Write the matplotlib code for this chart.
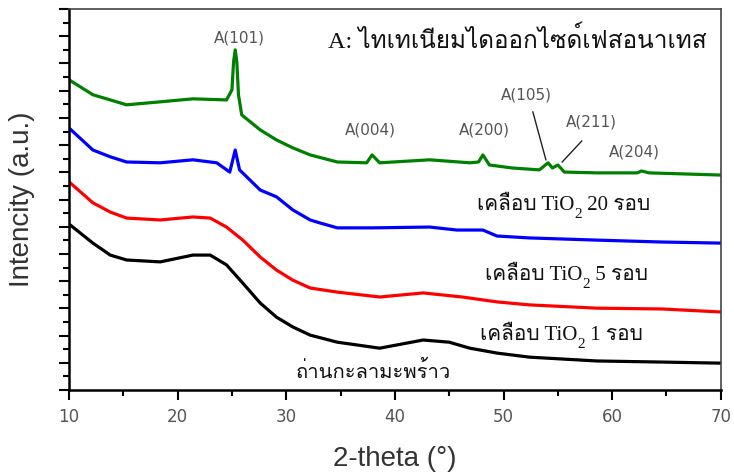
#!/usr/bin/env python3
"""XRD patterns of coconut shell charcoal coated with TiO2."""

import matplotlib
matplotlib.use("Agg")
import matplotlib.pyplot as plt
from matplotlib import font_manager
from matplotlib.ft2font import FT2Font
from matplotlib.ticker import MultipleLocator, NullFormatter

# 2-theta (deg) and intensity (a.u., stacked)
x_20 = [10.0, 12.2, 13.8, 15.3, 18.4, 21.4, 24.5, 25.0, 25.15, 25.3, 25.45, 25.6,
        25.9, 27.6, 29.1, 30.6, 32.2, 34.7, 37.4, 37.9, 38.6, 43.2, 46.9, 47.7,
        48.1, 48.7, 50.8, 53.3, 54.1, 54.5, 55.0, 55.6, 58.6, 62.3, 62.7, 63.4, 70.0]
y_20 = [11.40, 10.85, 10.66, 10.48, 10.59, 10.70, 10.66, 11.03, 12.06, 12.50, 12.06, 10.85,
        10.11, 9.56, 9.19, 8.90, 8.64, 8.38, 8.35, 8.64, 8.35, 8.46, 8.35, 8.38,
        8.64, 8.27, 8.16, 8.09, 8.35, 8.16, 8.27, 8.01, 7.98, 7.98, 8.05, 7.98, 7.90]

x_5 = [10.0, 12.2, 13.8, 15.3, 18.4, 21.4, 23.6, 24.8, 25.3, 25.7, 27.6, 29.1,
       30.6, 32.2, 33.1, 34.7, 37.9, 43.2, 45.7, 48.1, 49.4, 52.4, 58.6, 64.6, 70.0]
y_5 = [9.63, 8.82, 8.57, 8.38, 8.35, 8.46, 8.35, 8.01, 8.82, 8.09, 7.35, 7.10,
       6.62, 6.25, 6.14, 5.96, 5.96, 5.99, 5.88, 5.88, 5.66, 5.59, 5.51, 5.44, 5.40]

x_1 = [10.0, 12.2, 13.8, 15.3, 18.4, 21.4, 23.0, 24.5, 26.0, 27.6, 29.1, 30.6,
       32.2, 34.7, 38.6, 42.6, 46.2, 49.4, 52.4, 58.6, 64.6, 70.0]
y_1 = [7.65, 6.88, 6.54, 6.32, 6.25, 6.36, 6.32, 5.99, 5.51, 4.89, 4.41, 4.04,
       3.75, 3.60, 3.42, 3.57, 3.42, 3.24, 3.13, 3.01, 2.98, 2.87]

x_char = [10.0, 12.2, 13.8, 15.3, 18.4, 21.4, 23.0, 24.5, 26.0, 27.6, 29.1, 30.6,
          32.2, 34.7, 38.6, 42.6, 45.0, 46.9, 49.4, 52.4, 58.6, 64.6, 70.0]
y_char = [6.10, 5.40, 4.96, 4.78, 4.71, 4.96, 4.96, 4.60, 3.93, 3.20, 2.68, 2.32,
          2.02, 1.76, 1.54, 1.84, 1.76, 1.54, 1.36, 1.21, 1.07, 1.03, 0.99]

peak_labels = ["A(101)", "A(004)", "A(200)", "A(105)", "A(211)", "A(204)"]
peak_pos = [(25.7, 12.94), (37.7, 9.56), (48.2, 9.56), (52.1, 10.85), (58.1, 9.85), (62.0, 8.75)]

title_text = "A: ไทเทเนียมไดออกไซด์เฟสอนาเทส"
char_label = "ถ่านกะลามะพร้าว"


def thai_family():
    for f in font_manager.fontManager.ttflist:
        try:
            cmap = FT2Font(f.fname).get_charmap()
        except Exception:
            continue
        if 0x0E01 in cmap and 0x0E40 in cmap and 0x0E48 in cmap:
            return f.name
    return None


THAI = thai_family()
serif_thai = ["Liberation Serif"] + ([THAI] if THAI else []) + ["DejaVu Sans"]


def coated_label(ax, x, y, cycles):
    t1 = ax.text(x, y, "เคลือบ TiO", family=serif_thai, fontsize=15, color="#111111",
                 ha="left", va="bottom")
    t2 = ax.annotate("2", xy=(1, 0.0), xycoords=t1, family=serif_thai, fontsize=11,
                     color="#111111", ha="left", va="center")
    ax.annotate(f" {cycles} รอบ", xy=(1, 0), xycoords=(t2, t1), family=serif_thai,
                fontsize=15, color="#111111", ha="left", va="bottom")


fig = plt.figure(figsize=(7.34, 4.74), dpi=100)
ax = fig.add_axes([0.094, 0.177, 0.888, 0.804])

ax.plot(x_20, y_20, color="#008000", linewidth=2.3)
ax.plot(x_5, y_5, color="#0000ff", linewidth=2.3)
ax.plot(x_1, y_1, color="#ff0000", linewidth=2.3)
ax.plot(x_char, y_char, color="#000000", linewidth=2.3)

ax.set_xlim(10, 70)
ax.set_ylim(0, 14)
ax.xaxis.set_major_locator(MultipleLocator(10))
ax.xaxis.set_minor_locator(MultipleLocator(5))
ax.yaxis.set_major_locator(MultipleLocator(1))
ax.yaxis.set_minor_locator(MultipleLocator(0.5))
ax.yaxis.set_major_formatter(NullFormatter())
ax.tick_params(axis="both", which="major", direction="out", length=7, width=1.5,
               labelsize=12, labelcolor="#555555")
ax.tick_params(axis="both", which="minor", direction="out", length=4, width=1.5)
ax.tick_params(axis="x", pad=6)
for side in ["left", "bottom"]:
    ax.spines[side].set_linewidth(1.8)
for side in ["top", "right"]:
    ax.spines[side].set_linewidth(1.2)
    ax.spines[side].set_color("#444444")

ax.set_xlabel("2-theta (°)", family="Liberation Sans", fontsize=20, color="#333333", labelpad=14)
ax.set_ylabel("Intencity (a.u.)", family="Liberation Sans", fontsize=20, color="#333333", labelpad=14)

for label, (px, py) in zip(peak_labels, peak_pos):
    ax.text(px, py, label, fontsize=11, color="#555555", ha="center", va="center")

ax.plot([52.7, 53.9], [10.22, 8.46], color="#222222", linewidth=1)
ax.plot([57.2, 55.4], [9.15, 8.38], color="#222222", linewidth=1)

ax.text(33.8, 12.87, title_text, family=serif_thai, fontsize=17.5, color="#111111",
        ha="left", va="center")

coated_label(ax, 47.6, 6.45, 20)
coated_label(ax, 48.3, 3.87, 5)
coated_label(ax, 47.8, 1.67, 1)
ax.text(30.9, 0.66, char_label, family=serif_thai, fontsize=14.5, color="#111111",
        ha="left", va="center")

fig.savefig("out.png", dpi=100)
